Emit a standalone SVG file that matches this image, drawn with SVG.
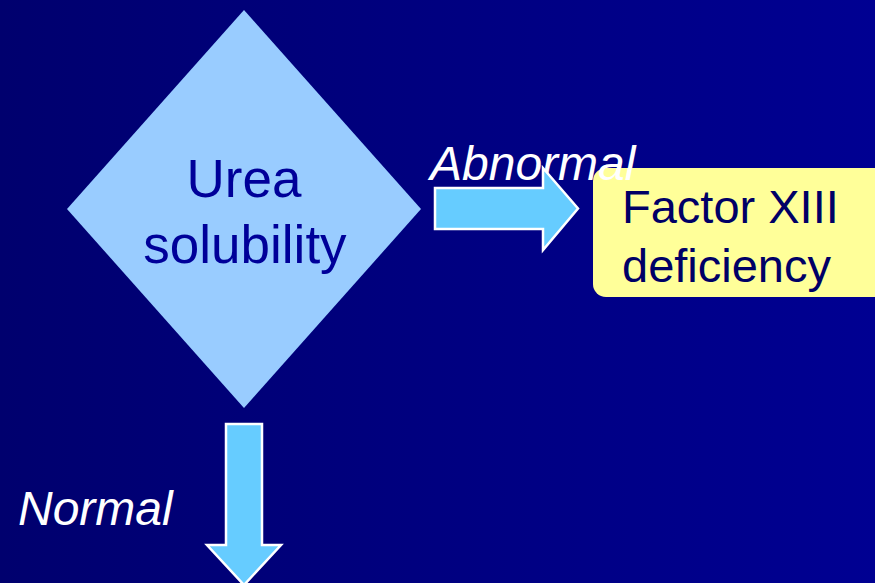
<svg xmlns="http://www.w3.org/2000/svg" width="875" height="583" viewBox="0 0 875 583">
<defs>
<linearGradient id="bg" x1="0" y1="0" x2="1" y2="0">
<stop offset="0" stop-color="#00006E"/>
<stop offset="1" stop-color="#000092"/>
</linearGradient>
</defs>
<style>
.lbl{font-family:"Liberation Sans",Arial,sans-serif;font-style:italic;fill:#FFFFFF;font-size:48px}
.node{font-family:"Liberation Sans",Arial,sans-serif}
.arrow{fill:#66CCFF;stroke:#FFFFFF;stroke-width:2.5;stroke-linejoin:miter}
</style>
<rect width="875" height="583" fill="url(#bg)"/>
<g id="decision">
<polygon points="244,10 421,209 244,408 67,209" fill="#99CCFF"/>
<text class="node" x="244" y="197" text-anchor="middle" font-size="53" fill="#000099">Urea</text>
<text class="node" x="245" y="263" text-anchor="middle" font-size="53" fill="#000099">solubility</text>
</g>
<g id="result">
<rect x="593" y="168" width="300" height="129" rx="13" ry="13" fill="#FFFF99"/>
<text class="node" x="622" y="223" font-size="47" fill="#000066">Factor XIII</text>
<text class="node" x="622" y="282" font-size="47" fill="#000066">deficiency</text>
</g>
<g id="connectors">
<text class="lbl" x="430" y="180">Abnormal</text>
<text class="lbl" x="18" y="525">Normal</text>
<polygon class="arrow" points="435,188 543,188 543,168 578,208.5 543,250 543,229 435,229"/>
<polygon class="arrow" points="226,424 262,424 262,545 281,545 244,585 207,545 226,545"/>
</g>
</svg>
